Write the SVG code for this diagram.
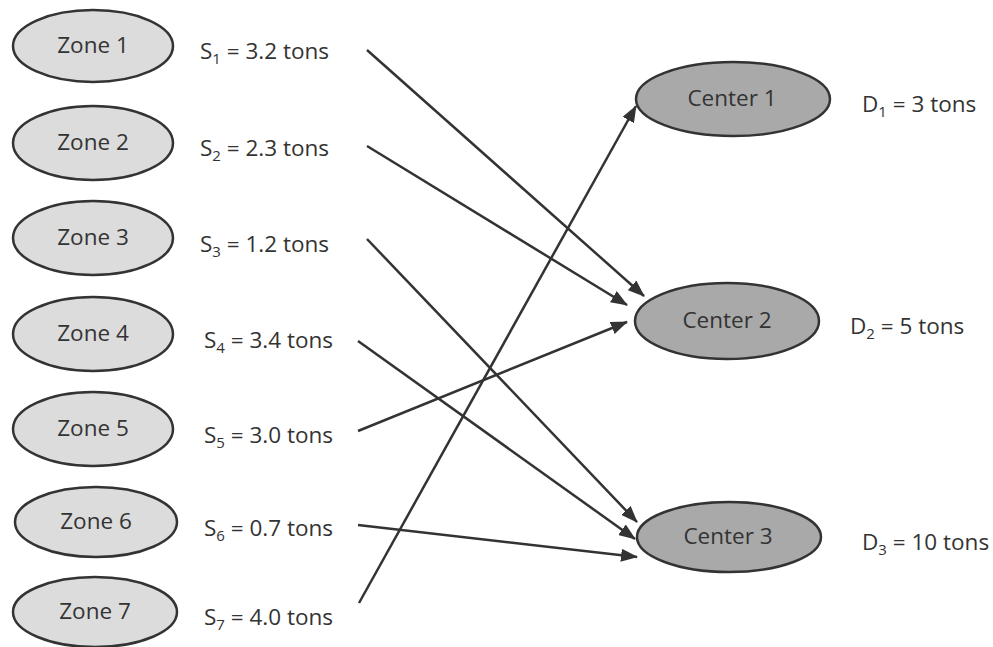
<svg xmlns="http://www.w3.org/2000/svg" width="993" height="647" viewBox="0 0 993 647">
<defs>
<style>
.zone{fill:#dcdcdc;stroke:#333;stroke-width:2.5}
.center{fill:#a9a9a9;stroke:#333;stroke-width:2.5}
text{font-family:"Open Sans","Noto Sans",sans-serif;font-size:22.5px;fill:#333}
.lbl{text-anchor:middle}
.sub{font-size:15px}
.conn line{stroke:#333;stroke-width:2.5;marker-end:url(#arr)}
</style>
<marker id="arr" markerUnits="userSpaceOnUse" viewBox="0 0 17 13" markerWidth="17" markerHeight="13" refX="16" refY="6.5" orient="auto">
<path d="M0,0 L17,6.5 L0,13 z" fill="#333"/>
</marker>
</defs>
<rect width="993" height="647" fill="#fff"/>
<g id="zone1"><ellipse class="zone" cx="93" cy="46" rx="80" ry="36"/><text class="lbl" x="93" y="53">Zone 1</text></g>
<g id="zone2"><ellipse class="zone" cx="93" cy="143" rx="80" ry="37"/><text class="lbl" x="93" y="150">Zone 2</text></g>
<g id="zone3"><ellipse class="zone" cx="93" cy="238" rx="80" ry="37"/><text class="lbl" x="93" y="245">Zone 3</text></g>
<g id="zone4"><ellipse class="zone" cx="93" cy="334" rx="80" ry="37"/><text class="lbl" x="93" y="341">Zone 4</text></g>
<g id="zone5"><ellipse class="zone" cx="93" cy="429" rx="80" ry="37"/><text class="lbl" x="93" y="436">Zone 5</text></g>
<g id="zone6"><ellipse class="zone" cx="96" cy="522" rx="81" ry="35"/><text class="lbl" x="96" y="529">Zone 6</text></g>
<g id="zone7"><ellipse class="zone" cx="95" cy="612" rx="82" ry="35"/><text class="lbl" x="95" y="619">Zone 7</text></g>

<g id="supply1"><text x="200" y="59">S<tspan class="sub" dy="5">1</tspan><tspan dy="-5"> = 3.2 tons</tspan></text></g>
<g id="supply2"><text x="200" y="156">S<tspan class="sub" dy="5">2</tspan><tspan dy="-5"> = 2.3 tons</tspan></text></g>
<g id="supply3"><text x="200" y="252">S<tspan class="sub" dy="5">3</tspan><tspan dy="-5"> = 1.2 tons</tspan></text></g>
<g id="supply4"><text x="204" y="348">S<tspan class="sub" dy="5">4</tspan><tspan dy="-5"> = 3.4 tons</tspan></text></g>
<g id="supply5"><text x="204" y="443">S<tspan class="sub" dy="5">5</tspan><tspan dy="-5"> = 3.0 tons</tspan></text></g>
<g id="supply6"><text x="204" y="536">S<tspan class="sub" dy="5">6</tspan><tspan dy="-5"> = 0.7 tons</tspan></text></g>
<g id="supply7"><text x="204" y="625">S<tspan class="sub" dy="5">7</tspan><tspan dy="-5"> = 4.0 tons</tspan></text></g>

<g id="center1"><ellipse class="center" cx="733" cy="99" rx="97" ry="37"/><text class="lbl" x="732" y="106">Center 1</text></g>
<g id="center2"><ellipse class="center" cx="727" cy="321" rx="92" ry="38"/><text class="lbl" x="727" y="328">Center 2</text></g>
<g id="center3"><ellipse class="center" cx="729" cy="537" rx="92" ry="35"/><text class="lbl" x="728" y="544">Center 3</text></g>

<g id="demand1"><text x="862" y="112">D<tspan class="sub" dy="5">1</tspan><tspan dy="-5"> = 3 tons</tspan></text></g>
<g id="demand2"><text x="850" y="334">D<tspan class="sub" dy="5">2</tspan><tspan dy="-5"> = 5 tons</tspan></text></g>
<g id="demand3"><text x="862" y="550">D<tspan class="sub" dy="5">3</tspan><tspan dy="-5"> = 10 tons</tspan></text></g>

<g id="connectors" class="conn">
<line x1="367" y1="50" x2="644" y2="296"/>
<line x1="367" y1="146" x2="627" y2="305"/>
<line x1="358" y1="431" x2="627" y2="322"/>
<line x1="367" y1="239" x2="637" y2="522"/>
<line x1="358" y1="341" x2="635" y2="539"/>
<line x1="358" y1="525" x2="637" y2="557"/>
<line x1="359" y1="603" x2="636" y2="106"/>
</g>
</svg>
